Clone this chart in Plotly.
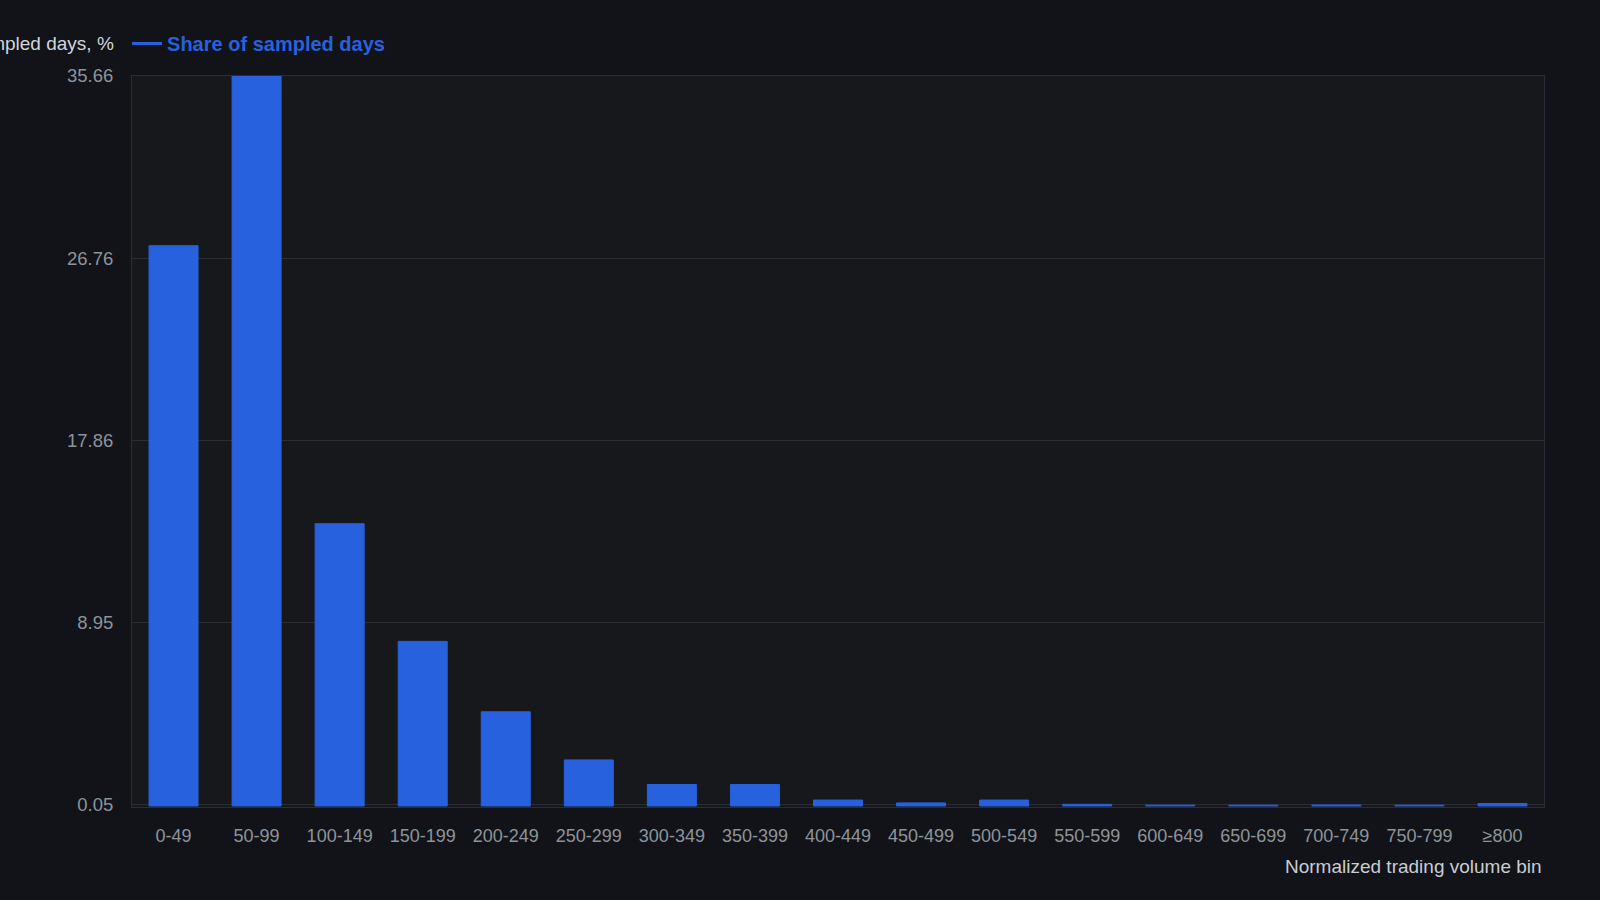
import plotly.graph_objects as go

# volume bins and share of sampled days (%)
bins = ["0-49", "50-99", "100-149", "150-199", "200-249", "250-299", "300-349",
        "350-399", "400-449", "450-499", "500-549", "550-599", "600-649",
        "650-699", "700-749", "750-799", "≥800"]
share = [27.37, 35.66, 13.79, 8.04, 4.60, 2.25, 1.05, 1.05, 0.29, 0.15,
         0.29, 0.08, 0.04, 0.04, 0.05, 0.04, 0.12]
y_ticks = [0.05, 8.95, 17.86, 26.76, 35.66]

BLUE = "#2861de"
PAGE_BG = "#111318"
PLOT_BG = "#16181c"
GRID = "#2a2d33"
TICK = "#8e939a"
FONT = "Liberation Sans, Arial, sans-serif"

fig = go.Figure()
fig.add_trace(go.Bar(
    x=bins, y=share,
    marker=dict(color=BLUE, line=dict(color=BLUE, width=1)),
    showlegend=False,
))
# legend entry drawn as a line, like the original
fig.add_trace(go.Scatter(
    x=[None], y=[None], mode="lines",
    line=dict(color=BLUE, width=3),
    name="Share of sampled days",
))

fig.update_layout(
    width=1600, height=900,
    paper_bgcolor=PAGE_BG,
    plot_bgcolor=PLOT_BG,
    margin=dict(l=132, r=56, t=76, b=93),
    bargap=0.41,
    font=dict(family=FONT, size=18, color=TICK),
    legend=dict(
        orientation="h", x=-0.0035, xanchor="left", y=1.0445, yanchor="middle",
        font=dict(color=BLUE, size=20, family=FONT, weight="bold"),
        bgcolor="rgba(0,0,0,0)", itemwidth=30,
    ),
    annotations=[
        dict(text="Share of sampled days, %", xref="paper", yref="paper",
             x=-0.0114, y=1.0, xanchor="right", yanchor="bottom", yshift=20,
             showarrow=False, font=dict(size=19, color="#d2d5da")),
        dict(text="Normalized trading volume bin", xref="paper", yref="paper",
             x=1.0, y=-0.082, xanchor="right", yanchor="middle",
             showarrow=False, font=dict(size=19, color="#c9cdd3")),
    ],
)

fig.update_xaxes(
    showgrid=False, ticks="", ticklabelstandoff=12,
    showline=True, linecolor=GRID, linewidth=1, mirror=True,
    tickfont=dict(size=18, color=TICK),
)
fig.update_yaxes(
    range=[-0.05, 35.66], tickvals=y_ticks, ticktext=[f"{v:.2f}" for v in y_ticks],
    showgrid=True, gridcolor=GRID, gridwidth=1, zeroline=False,
    showline=True, linecolor=GRID, linewidth=1, mirror=True,
    ticks="", ticklabelstandoff=14,
    tickfont=dict(size=18.5, color=TICK),
)

fig.write_html("out.html", config={"displayModeBar": False},
               post_script="document.body.style.margin='0';")
